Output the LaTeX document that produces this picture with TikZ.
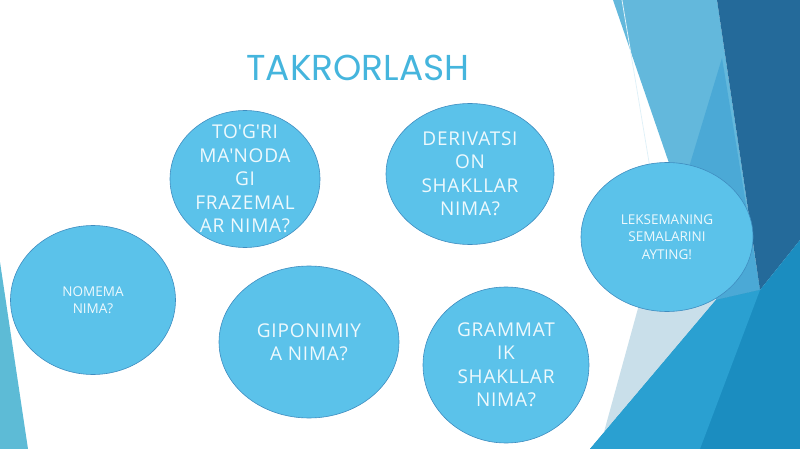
\documentclass[tikz,border=0pt]{standalone}
\usepackage{fontspec}
\setmainfont{Open Sans}
\newfontfamily\titlefont{Poppins}
\usepackage{tikz}
\usetikzlibrary{shapes.geometric}
\definecolor{bubblefill}{HTML}{5BC2EA}
\definecolor{bubbleline}{HTML}{3F8DC0}
\definecolor{bubbletext}{HTML}{EEF9FD}
\definecolor{titleblue}{HTML}{45B5DD}
\definecolor{bandlight}{HTML}{63B8DC}
\definecolor{bandmid}{HTML}{4BA9D6}
\definecolor{banddark}{HTML}{246A9A}
\definecolor{bandlow}{HTML}{1B8DC0}
\definecolor{bandlowlight}{HTML}{2AA0D1}
\definecolor{bandpale}{HTML}{C9DFEA}
\definecolor{stripleft}{HTML}{5DBBD6}
\tikzset{bubble/.style={ellipse, draw=bubbleline, line width=0.6pt, fill=bubblefill, inner sep=0pt},
  bigq/.style={text=bubbletext, align=center, inner sep=0pt, font=\fontsize{19}{23.5}\selectfont\addfontfeature{LetterSpace=4}},
  smallq/.style={text=bubbletext, align=center, inner sep=0pt, font=\fontsize{13.5}{17.5}\selectfont}}
\newcommand{\qbubble}[6] {\node at (#1) (#2) [bubble, minimum width=#3pt, minimum height=#4pt] {}; \node at (#2) (#2-q) [#5] {#6};}
\newcommand{\ap}{\textquotesingle}

\begin{document}
\begin{tikzpicture}[x=1pt, y=-1pt]
\useasboundingbox (0,0) rectangle (800,449);

% background bands
\fill[bandlight] (613,0) -- (717,0) -- (760,290) -- (716,300) -- cycle;
\fill[bandmid] (722,58) -- (760,290) -- (716,300) -- (680,197) -- cycle;
\fill[banddark] (717,0) -- (800,0) -- (800,240) -- (760,290) -- cycle;
\fill[bandpale] (654,250) -- (716,300) -- (604,432) -- cycle;
\fill[bandlow] (590,449) -- (716,300) -- (760,290) -- (800,240) -- (800,449) -- cycle;
\fill[bandlowlight] (590,449) -- (716,300) -- (760,290) -- (700,449) -- cycle;
\draw[white!80!bandlight, line width=0.8pt] (622,0) -- (672,300);
\fill[stripleft] (0,262) -- (28,449) -- (0,449) -- cycle;

\node at (358,67.5) (title) [text=titleblue, inner sep=0pt, font=\titlefont\fontsize{36}{36}\selectfont] {TAKRORLASH};

\qbubble {245,179} {togri} {150} {137} {bigq} {TO\ap G\ap RI\\MA\ap NODA\\GI\\FRAZEMAL\\AR NIMA?};
\qbubble {470,174} {deriv} {168} {141} {bigq} {DERIVATSI\\ON\\SHAKLLAR\\NIMA?};
\qbubble {667,237} {leksema} {172} {149} {smallq} {LEKSEMANING\\SEMALARINI\\AYTING!};
\qbubble {93,300} {nomema} {165} {149} {smallq} {NOMEMA\\NIMA?};
\qbubble {309,342} {gipon} {180} {152} {bigq} {GIPONIMIY\\A NIMA?};
\qbubble {506,365} {gramm} {166} {156} {bigq} {GRAMMAT\\IK\\SHAKLLAR\\NIMA?};

\end{tikzpicture}
\end{document}
